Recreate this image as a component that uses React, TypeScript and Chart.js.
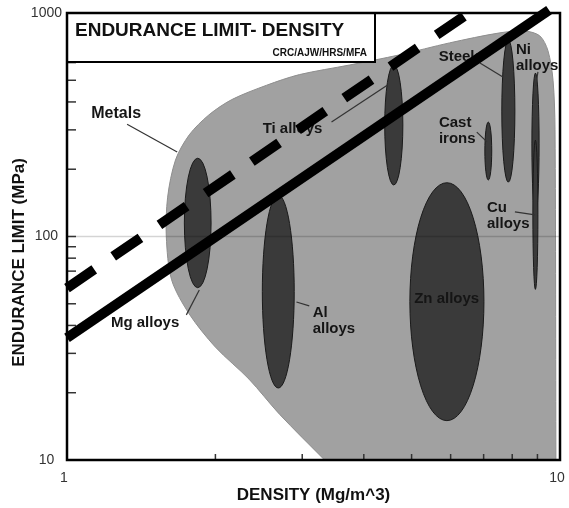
import React, { useEffect, useRef } from 'react';
import { Chart, registerables } from 'chart.js';

Chart.register(...registerables);

// ---- axis ticks ----
const xTickValues = [1, 10];
const yTickValues = [10, 100, 1000];
const xMinorTicks = [2, 3, 4, 5, 6, 7, 8, 9];
const yMinorTicks = [20, 30, 40, 50, 60, 70, 80, 90, 100, 200, 300, 400, 500, 600, 700, 800, 900];
const gridValues = [100];

// ---- metals envelope (density Mg/m^3, endurance limit MPa) ----
const envelopeDensity = [3.33, 2.7, 2.34, 2.0, 1.77, 1.63, 1.59, 1.6, 1.66, 1.77, 1.94, 2.16, 2.54, 2.96, 3.74, 4.73, 5.97, 7.55, 8.5, 9.1, 9.45, 9.68, 9.77, 9.81];
const envelopeLimit = [10, 16, 23, 32, 45, 64, 100, 150, 220, 285, 350, 410, 475, 530, 585, 650, 735, 815, 830, 790, 680, 500, 300, 10];

// ---- material families (ellipse bounds) ----
const familyNames = ['Mg alloys', 'Al alloys', 'Ti alloys', 'Zn alloys', 'Cast irons', 'Steels', 'Ni alloys', 'Cu alloys'];
const densityLow = [1.73, 2.49, 4.41, 4.96, 7.04, 7.62, 8.77, 8.81];
const densityHigh = [1.96, 2.89, 4.8, 7.01, 7.27, 8.1, 9.07, 9.02];
const limitLow = [59, 21, 170, 15, 179, 175, 125, 58];
const limitHigh = [224, 153, 585, 174, 325, 757, 539, 270];

// ---- guide lines ----
const solidDensity = [1, 9.5];
const solidLimit = [35.2, 1030];
const dashedDensity = [1, 6.4];
const dashedLimit = [58.8, 970];

// ---- annotations ----
const labelTexts = [['Metals'], ['Ti alloys'], ['Steels'], ['Ni', 'alloys'], ['Cast', 'irons'], ['Cu', 'alloys'], ['Mg alloys'], ['Al', 'alloys'], ['Zn alloys']];
const labelDensity = [1.258, 2.867, 6.29, 8.14, 5.68, 7.11, 1.44, 3.15, 5.89];
const labelLimit = [353, 303, 635, 683, 322, 134, 41, 45.5, 52.5];
const labelAlign = ['center', 'center', 'center', 'left', 'left', 'left', 'center', 'left', 'center'];

const leaderFromDensity = [1.324, 3.44, 6.88, 9.02, 6.78, 8.1, 1.746, 2.92];
const leaderFromLimit = [318, 325, 597, 545, 293, 129, 44.6, 50.9];
const leaderToDensity = [1.673, 4.47, 7.66, 8.93, 7.11, 8.9, 1.855, 3.1];
const leaderToLimit = [239, 476, 517, 471, 265, 125, 57.6, 48.9];

const chartTitle = 'ENDURANCE LIMIT- DENSITY';
const chartCredit = 'CRC/AJW/HRS/MFA';
const xTitle = 'DENSITY (Mg/m^3)';
const yTitle = 'ENDURANCE LIMIT (MPa)';

const FONT = '"Liberation Sans", Arial, Helvetica, sans-serif';

const overlayPlugin = {
  id: 'overlay',
  afterDatasetDraw(chart: any, args: any) {
    if (args.index !== 0) return;
    const { ctx, chartArea: a } = chart;
    const x = chart.scales.x;
    const y = chart.scales.y;
    const px = (v: number) => x.getPixelForValue(v);
    const py = (v: number) => y.getPixelForValue(v);

    ctx.save();
    ctx.beginPath();
    ctx.rect(a.left, a.top, a.right - a.left, a.bottom - a.top);
    ctx.clip();

    // family ellipses
    for (let i = 0; i < familyNames.length; i++) {
      const x0 = px(densityLow[i]);
      const x1 = px(densityHigh[i]);
      const y0 = py(limitHigh[i]);
      const y1 = py(limitLow[i]);
      ctx.beginPath();
      ctx.ellipse((x0 + x1) / 2, (y0 + y1) / 2, Math.abs(x1 - x0) / 2, Math.abs(y1 - y0) / 2, 0, 0, Math.PI * 2);
      ctx.fillStyle = '#3a3a3a';
      ctx.fill();
      ctx.lineWidth = 1;
      ctx.strokeStyle = '#1a1a1a';
      ctx.stroke();
    }

    // grid line
    ctx.strokeStyle = 'rgba(0,0,0,0.17)';
    ctx.lineWidth = 1.5;
    for (const g of gridValues) {
      ctx.beginPath();
      ctx.moveTo(a.left, py(g));
      ctx.lineTo(a.right, py(g));
      ctx.stroke();
    }

    // leader lines
    ctx.strokeStyle = '#333';
    ctx.lineWidth = 1.2;
    for (let i = 0; i < leaderFromDensity.length; i++) {
      ctx.beginPath();
      ctx.moveTo(px(leaderFromDensity[i]), py(leaderFromLimit[i]));
      ctx.lineTo(px(leaderToDensity[i]), py(leaderToLimit[i]));
      ctx.stroke();
    }

    // labels
    ctx.fillStyle = '#151515';
    ctx.textBaseline = 'middle';
    for (let i = 0; i < labelTexts.length; i++) {
      ctx.font = `bold ${i === 0 ? 16 : 15}px ${FONT}`;
      ctx.textAlign = labelAlign[i] as CanvasTextAlign;
      const lx = px(labelDensity[i]);
      const ly = py(labelLimit[i]);
      labelTexts[i].forEach((t, k) => ctx.fillText(t, lx, ly + k * 16));
    }
    ctx.restore();

    // inward minor ticks
    ctx.save();
    ctx.strokeStyle = '#333';
    ctx.lineWidth = 1.5;
    for (const v of yMinorTicks) {
      ctx.beginPath();
      ctx.moveTo(a.left, py(v));
      ctx.lineTo(a.left + 9, py(v));
      ctx.stroke();
    }
    for (const v of xMinorTicks) {
      ctx.beginPath();
      ctx.moveTo(px(v), a.bottom);
      ctx.lineTo(px(v), a.bottom - 6);
      ctx.stroke();
    }

    // title box
    const bw = 308;
    const bh = 49;
    ctx.fillStyle = '#fff';
    ctx.fillRect(a.left, a.top, bw, bh);
    ctx.strokeStyle = '#000';
    ctx.lineWidth = 2;
    ctx.strokeRect(a.left, a.top, bw, bh);
    ctx.fillStyle = '#111';
    ctx.textBaseline = 'middle';
    ctx.textAlign = 'left';
    ctx.font = `bold 19px ${FONT}`;
    ctx.fillText(chartTitle, a.left + 8, a.top + 18);
    ctx.textAlign = 'right';
    ctx.font = `bold 10px ${FONT}`;
    ctx.fillText(chartCredit, a.left + bw - 8, a.top + 40);

    // plot frame
    ctx.strokeStyle = '#000';
    ctx.lineWidth = 2.5;
    ctx.strokeRect(a.left, a.top, a.right - a.left, a.bottom - a.top);

    // y axis title
    ctx.save();
    ctx.translate(a.left - 48, (a.top + a.bottom) / 2 + 26);
    ctx.rotate(-Math.PI / 2);
    ctx.textAlign = 'center';
    ctx.textBaseline = 'middle';
    ctx.font = `bold 17px ${FONT}`;
    ctx.fillStyle = '#111';
    ctx.fillText(yTitle, 0, 0);
    ctx.restore();

    ctx.restore();
  },
};

export default function App() {
  const ref = useRef<HTMLCanvasElement | null>(null);

  useEffect(() => {
    document.body.style.margin = '0';
    const canvas = ref.current;
    if (!canvas) return;

    const toPts = (xs: number[], ys: number[]) => xs.map((v, i) => ({ x: v, y: ys[i] }));

    const chart = new Chart(canvas, {
      type: 'line',
      data: {
        datasets: [
          {
            label: 'Metals',
            data: toPts(envelopeDensity, envelopeLimit),
            fill: 'shape',
            backgroundColor: '#a1a1a1',
            borderColor: '#8e8e8e',
            borderWidth: 1,
            pointRadius: 0,
            tension: 0.3,
            order: 3,
          },
          {
            label: 'solid',
            data: toPts(solidDensity, solidLimit),
            borderColor: '#000',
            borderWidth: 10,
            borderCapStyle: 'butt',
            pointRadius: 0,
            fill: false,
            clip: false,
            order: 1,
          },
          {
            label: 'dashed',
            data: toPts(dashedDensity, dashedLimit),
            borderColor: '#000',
            borderWidth: 10,
            borderDash: [33, 23],
            borderCapStyle: 'butt',
            pointRadius: 0,
            fill: false,
            clip: false,
            order: 2,
          },
        ],
      } as any,
      options: {
        animation: false,
        responsive: false,
        maintainAspectRatio: false,
        parsing: false as any,
        layout: { padding: { top: 13, right: 0, left: 0, bottom: 0 } },
        plugins: { legend: { display: false }, tooltip: { enabled: false } },
        scales: {
          x: {
            type: 'logarithmic',
            min: 1,
            max: 10,
            afterBuildTicks: (s: any) => {
              s.ticks = xTickValues.map((v) => ({ value: v }));
            },
            afterFit: (s: any) => {
              s.height = 48;
              s.paddingLeft = 0;
              s.paddingRight = 9;
            },
            grid: { display: false, drawTicks: false },
            border: { display: false },
            ticks: {
              autoSkip: false,
              maxRotation: 0,
              padding: 10,
              labelOffset: -3,
              color: '#333',
              font: { family: FONT, size: 14 },
              callback: (v: any) => String(v),
            },
            title: {
              display: true,
              text: xTitle,
              color: '#111',
              font: { family: FONT, size: 17, weight: 'bold' },
              padding: { top: 0, bottom: 2 },
            },
          },
          y: {
            type: 'logarithmic',
            min: 10,
            max: 1000,
            afterBuildTicks: (s: any) => {
              s.ticks = yTickValues.map((v) => ({ value: v }));
            },
            afterFit: (s: any) => {
              s.width = 67;
              s.paddingTop = 0;
              s.paddingBottom = 0;
            },
            grid: { display: false, drawTicks: false },
            border: { display: false },
            ticks: {
              autoSkip: false,
              padding: 5,
              crossAlign: 'center',
              color: '#333',
              font: { family: FONT, size: 14 },
              callback: (v: any) => String(v),
            },
          },
        } as any,
      },
      plugins: [overlayPlugin],
    });

    return () => chart.destroy();
  }, []);

  return (
    <div style={{ width: 569, height: 508 }}>
      <canvas ref={ref} width={569} height={508} />
    </div>
  );
}
